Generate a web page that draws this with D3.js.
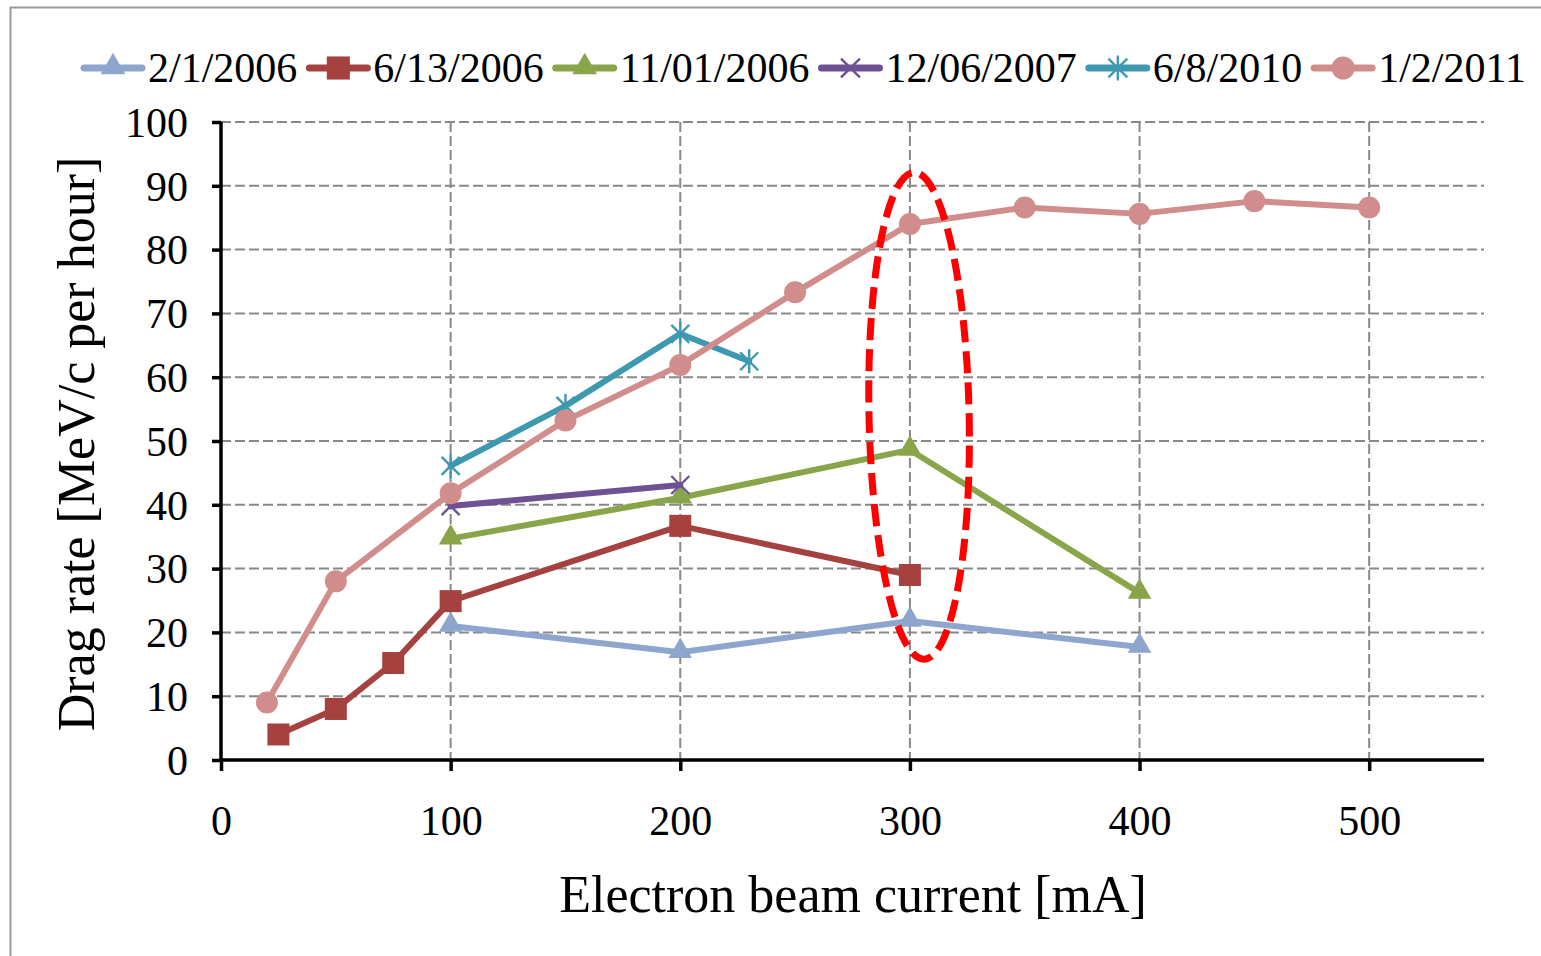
<!DOCTYPE html>
<html><head><meta charset="utf-8">
<script src="https://cdn.jsdelivr.net/npm/d3@7"></script>
<style>body{margin:0;background:#fff}svg{display:block}text{font-family:"Liberation Serif","Times New Roman",serif;fill:#000}</style>
</head><body>
<script>
const seriesNames = ["2/1/2006","6/13/2006","11/01/2006","12/06/2007","6/8/2010","1/2/2011"];
const seriesColors = ["#8EA5CE","#A5423F","#88A54A","#6E5193","#3E98B0","#D18D8C"];
const seriesMarkers = ["triangle","square","triangle","x","asterisk","circle"];
const x2006a = [100,200,300,400];
const y2006a = [21.0,16.9,21.8,17.7];
const x2006b = [25,50,75,100,200,300];
const y2006b = [4.0,8.0,15.2,24.9,36.7,29.0];
const x2006c = [100,200,300,400];
const y2006c = [34.7,41.1,48.6,26.2];
const x2007 = [100,200];
const y2007 = [39.8,43.1];
const x2010 = [100,150,200,230];
const y2010 = [46.1,55.5,66.8,62.5];
const x2011 = [20,50,100,150,200,250,300,350,400,450,500];
const y2011 = [9.0,28.0,41.8,53.2,61.9,73.3,84.0,86.6,85.6,87.6,86.6];
const xTicks = [0,100,200,300,400,500];
const yTicks = [0,10,20,30,40,50,60,70,80,90,100];
const xTitle = "Electron beam current [mA]";
const yTitle = "Drag rate [MeV/c per hour]";
// annotation ellipse in data units
const ellipseX = 304, ellipseYLow = 15.8, ellipseYHigh = 92.1, ellipseHalfWidth = 21.8;

const seriesX = [x2006a,x2006b,x2006c,x2007,x2010,x2011];
const seriesY = [y2006a,y2006b,y2006c,y2007,y2010,y2011];

const W=1541,H=956;
const svg=d3.select("body").append("svg").attr("width",W).attr("height",H);
svg.append("rect").attr("x",10.5).attr("y",7.5).attr("width",1545).attr("height",970)
  .attr("fill","#fff").attr("stroke","#999").attr("stroke-width",2);

const L=221,R=1484,T=122,B=760;
const x=d3.scaleLinear().domain([0,550]).range([L,R]);
const y=d3.scaleLinear().domain([0,100]).range([B,T]);

const g=svg.append("g");
// gridlines
g.selectAll(".hg").data(yTicks.filter(d=>d>0)).join("line")
  .attr("x1",L).attr("x2",R).attr("y1",d=>y(d)).attr("y2",d=>y(d))
  .attr("stroke","#888").attr("stroke-width",2).attr("stroke-dasharray","10,4");
g.selectAll(".vg").data(xTicks.filter(d=>d>0)).join("line")
  .attr("x1",d=>x(d)).attr("x2",d=>x(d)).attr("y1",T).attr("y2",B)
  .attr("stroke","#888").attr("stroke-width",2).attr("stroke-dasharray","10,4");

// axes
const xa=svg.append("g").attr("transform",`translate(0,${B})`)
  .call(d3.axisBottom(x).tickValues(xTicks).tickSize(11).tickSizeOuter(0).tickPadding(34));
const ya=svg.append("g").attr("transform",`translate(${L},0)`)
  .call(d3.axisLeft(y).tickValues(yTicks).tickSize(9).tickSizeOuter(0).tickPadding(24));
[xa,ya].forEach(a=>{
  a.select(".domain").attr("stroke","#000").attr("stroke-width",3.5);
  a.selectAll(".tick line").attr("stroke","#000").attr("stroke-width",3.5);
  a.selectAll(".tick text").attr("font-size",42).attr("font-family","Liberation Serif").attr("fill","#000");
});
xa.select(".domain").attr("d",`M${L-2},0H${R}`);
ya.select(".domain").attr("d",`M0,${T}V${B+2}`);
ya.selectAll(".tick text").attr("dy","0.34em");

svg.append("text").attr("x",853).attr("y",912).attr("text-anchor","middle")
  .attr("font-size",52).text(xTitle);
svg.append("text").attr("transform","translate(94,444) rotate(-90)").attr("text-anchor","middle")
  .attr("font-size",52).text(yTitle);

function drawMarker(sel,type,color,s){
  s=s||1;
  if(type==="triangle"){
    sel.append("path").attr("d",d3.symbol(d3.symbolTriangle,240*s*s)()).attr("transform","translate(0,-1)").attr("fill",color);
  }else if(type==="square"){
    sel.append("rect").attr("x",-11*s).attr("y",-11*s).attr("width",22*s).attr("height",22*s).attr("fill",color);
  }else if(type==="circle"){
    sel.append("circle").attr("r",11*s).attr("fill",color);
  }else if(type==="x"){
    const a=9*s;
    sel.append("path").attr("d",`M${-a},${-a}L${a},${a}M${-a},${a}L${a},${-a}`).attr("stroke",color).attr("stroke-width",2.4).attr("fill","none");
  }else if(type==="asterisk"){
    const a=9*s,b=12*s;
    sel.append("path").attr("d",`M${-a},${-a}L${a},${a}M${-a},${a}L${a},${-a}M0,${-b}V${b}`).attr("stroke",color).attr("stroke-width",2.4).attr("fill","none");
  }
}

const line=d3.line().x(d=>x(d[0])).y(d=>y(d[1]));
seriesNames.forEach((n,i)=>{
  const pts=seriesX[i].map((v,j)=>[v,seriesY[i][j]]);
  const sg=svg.append("g");
  sg.append("path").attr("d",line(pts)).attr("fill","none").attr("stroke",seriesColors[i])
    .attr("stroke-width",6).attr("stroke-linejoin","round").attr("stroke-linecap","round");
  pts.forEach(p=>{
    const m=sg.append("g").attr("transform",`translate(${x(p[0])},${y(p[1])})`);
    drawMarker(m,seriesMarkers[i],seriesColors[i]);
  });
});

// ellipse annotation
const ecx=x(ellipseX), ecy=(y(ellipseYLow)+y(ellipseYHigh))/2;
svg.append("ellipse").attr("cx",ecx).attr("cy",ecy)
  .attr("rx",x(ellipseX+ellipseHalfWidth)-x(ellipseX)).attr("ry",(y(ellipseYLow)-y(ellipseYHigh))/2)
  .attr("transform",`rotate(-1.2,${ecx},${ecy})`)
  .attr("fill","none").attr("stroke","#FF0000").attr("stroke-width",7).attr("stroke-dasharray","22,9");

// legend
const lg=svg.append("g");
let lx=84;
seriesNames.forEach((n,i)=>{
  const it=lg.append("g");
  it.append("line").attr("x1",lx).attr("x2",lx+58).attr("y1",68).attr("y2",68)
    .attr("stroke",seriesColors[i]).attr("stroke-width",7).attr("stroke-linecap","round");
  const m=it.append("g").attr("transform",`translate(${lx+29},68)`);
  drawMarker(m,seriesMarkers[i],seriesColors[i],1.05);
  const t=it.append("text").attr("x",lx+64).attr("y",82).attr("font-size",42).text(n);
  lx+=64+t.node().getComputedTextLength()+12;
});
</script>
</body></html>
